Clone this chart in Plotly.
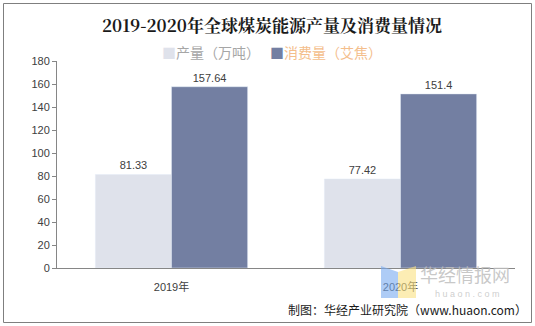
import plotly.graph_objects as go

categories = ["2019年", "2020年"]
production = [81.33, 77.42]
consumption = [157.64, 151.4]
prod_labels = ["81.33", "77.42"]
cons_labels = ["157.64", "151.4"]
y_ticks = [0, 20, 40, 60, 80, 100, 120, 140, 160, 180]

font = "Liberation Sans, Arial, Noto Sans CJK SC, sans-serif"

fig = go.Figure()
fig.add_trace(go.Bar(
    x=categories, y=production, name="产量（万吨）",
    marker_color="#DFE2EB", text=prod_labels, textposition="outside",
    textfont=dict(size=11, color="#404040", family=font), cliponaxis=False,
))
fig.add_trace(go.Bar(
    x=categories, y=consumption, name="消费量（艾焦）",
    marker_color="#737FA2", text=cons_labels, textposition="outside",
    textfont=dict(size=11, color="#404040", family=font), cliponaxis=False,
))

fig.update_layout(
    width=535, height=326,
    margin=dict(l=57, r=20, t=61, b=58),
    paper_bgcolor="white", plot_bgcolor="white",
    barmode="group", bargap=0.335, bargroupgap=0,
    showlegend=False,
    font=dict(family=font, size=11, color="#595959"),
)
fig.update_xaxes(
    showline=True, linecolor="#868686", linewidth=1,
    tickfont=dict(size=11, color="#404040", family=font),
    ticks="", showgrid=False, ticklabelstandoff=9,
)
fig.update_yaxes(
    range=[0, 180], tickvals=y_ticks, showgrid=False,
    showline=True, linecolor="#868686", linewidth=1,
    ticks="outside", ticklen=4, tickcolor="#868686",
    tickfont=dict(size=11, color="#404040", family=font),
    zeroline=False,
)

# category separator tick
fig.add_shape(type="line", xref="x", yref="y", x0=0.5, x1=0.5, y0=0, y1=-2.5,
              line=dict(color="#868686", width=1))

pl, pr, pt, pb = 57, 535 - 20, 61, 326 - 58
pw, ph = pr - pl, pb - pt
def fx(x):
    return (x - pl) / pw
def fy(y):
    return (pb - y) / ph

fig.add_shape(type="rect", xref="paper", yref="paper",
              x0=fx(3.5), x1=fx(531.5), y0=fy(322.5), y1=fy(3.5),
              line=dict(color="#7F7F7F", width=1))

# watermark logo
fig.add_shape(type="path", xref="paper", yref="paper",
              path=f"M {fx(381)} {fy(266)} L {fx(398)} {fy(272)} L {fx(398)} {fy(298)} L {fx(381)} {fy(298)} Z",
              fillcolor="rgba(120,170,240,0.6)", line=dict(width=0), layer="above")
fig.add_shape(type="path", xref="paper", yref="paper",
              path=f"M {fx(398)} {fy(272)} L {fx(416)} {fy(266)} L {fx(416)} {fy(298)} L {fx(398)} {fy(298)} Z",
              fillcolor="rgba(250,225,130,0.6)", line=dict(width=0), layer="above")

annotations = [
    dict(text="<b>2019-2020年全球煤炭能源产量及消费量情况</b>", x=fx(272), y=fy(24),
         xref="paper", yref="paper", showarrow=False, xanchor="center", yanchor="middle",
         font=dict(size=17, color="#1a1a1a", family="Noto Serif CJK SC, Noto Sans CJK SC, serif")),
    dict(text="<span style='color:#DFE2EB'>■</span>产量（万吨）", x=fx(160), y=fy(52),
         xref="paper", yref="paper", showarrow=False, xanchor="left", yanchor="middle",
         font=dict(size=14, color="#A6A6A6", family="Noto Sans CJK SC, sans-serif")),
    dict(text="<span style='color:#737FA2'>■</span>消费量（艾焦）", x=fx(268), y=fy(52),
         xref="paper", yref="paper", showarrow=False, xanchor="left", yanchor="middle",
         font=dict(size=14, color="#F4BE8C", family="Noto Sans CJK SC, sans-serif")),
    dict(text="华经情报网", x=fx(418), y=fy(274), xref="paper", yref="paper",
         showarrow=False, xanchor="left", yanchor="middle",
         font=dict(size=18, color="rgba(190,190,190,0.85)", family="Noto Sans CJK SC, sans-serif")),
    dict(text="h u a o n . c o m", x=fx(467), y=fy(294), xref="paper", yref="paper",
         showarrow=False, xanchor="center", yanchor="middle",
         font=dict(size=9, color="rgba(200,200,200,0.9)", family=font)),
    dict(text="制图：华经产业研究院（www.huaon.com）", x=fx(529), y=fy(309),
         xref="paper", yref="paper", showarrow=False, xanchor="right", yanchor="middle",
         font=dict(size=12, color="#1a1a1a", family="Noto Sans CJK SC, sans-serif")),
]
fig.update_layout(annotations=annotations)

fig.write_html("out.html")
